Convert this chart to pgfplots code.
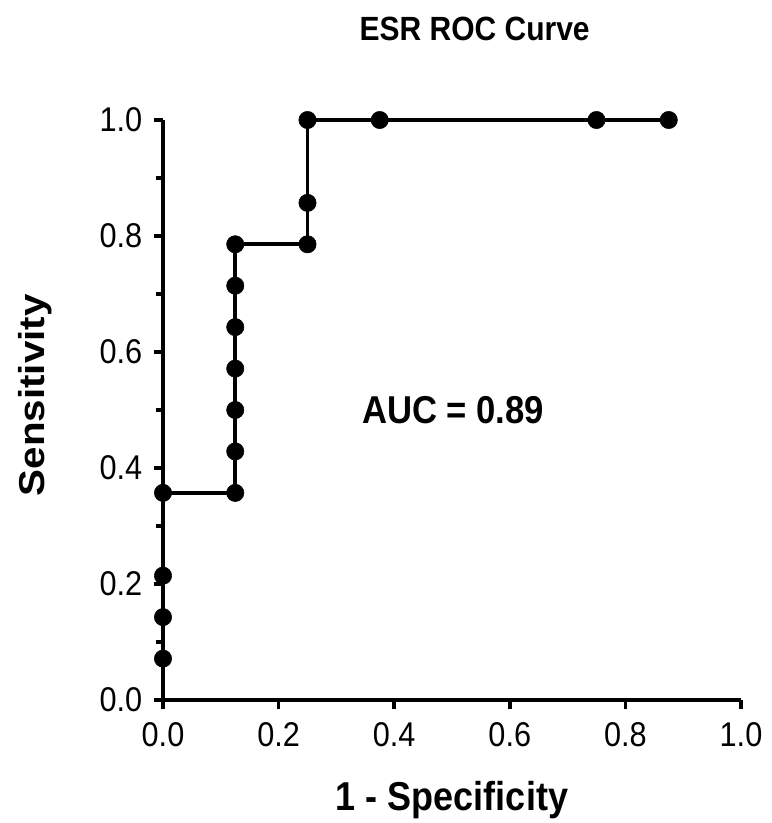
\documentclass[border=0pt]{standalone}
\usepackage{pgfplots}
\pgfplotsset{compat=1.18}
\usepackage{fontspec}
\setmainfont{Liberation Sans}

\begin{document}
\begin{tikzpicture}
\path[use as bounding box] (-122.25pt,-92.25pt) rectangle (456pt,525pt);
\begin{axis}[
  at={(0,0)}, anchor=origin,
  scale only axis,
  width=433.5pt, height=435pt,
  xmin=0, xmax=1, ymin=0, ymax=1,
  axis lines=left,
  axis line style={line width=2.9pt, -},
  xtick={0,0.2,...,1.0}, ytick={0,0.2,...,1.0},
  minor ytick={0.1,0.3,0.5,0.7,0.9},
  tick align=outside,
  major tick length=7pt, minor tick length=5pt,
  tick style={line width=2.6pt, black},
  tick label style={font=\fontsize{23}{25}\selectfont, yscale=1.12},
  yticklabel style={xshift=-5pt},
  xticklabel style={yshift=-5pt},
  /pgf/number format/assume math mode=true,
  /pgf/number format/fixed, /pgf/number format/fixed zerofill,
  /pgf/number format/precision=1,
  xlabel={\textbf{1 - Specificity}},
  ylabel={\textbf{Sensitivity}},
  label style={font=\fontsize{27}{30}\selectfont},
  xlabel style={at={(axis description cs:0.5,0)}, anchor=center, yshift=-75pt, yscale=1.12},
  ylabel style={at={(axis description cs:0,0.5)}, anchor=center, yshift=96pt, xshift=11pt, xscale=1.12},
  title={\textbf{ESR ROC Curve}},
  title style={font=\fontsize{22.5}{24}\selectfont, at={(axis description cs:0.5,1)}, anchor=center, yshift=62pt, xshift=17pt, yscale=1.12},
  clip=false,
]
\addplot[black, line width=2.9pt, no marks] coordinates {
  (0,0)(0,0.0714)(0,0.1429)(0,0.2143)(0,0.3571)(0.125,0.3571)(0.125,0.4286)
  (0.125,0.5)(0.125,0.5714)(0.125,0.6429)(0.125,0.7143)(0.125,0.7857)
  (0.25,0.7857)(0.25,0.8571)(0.25,1)(0.375,1)(0.75,1)(0.875,1)
};
\addplot[only marks, mark=*, mark size=6.5pt, black] coordinates {
  (0,0.0714)(0,0.1429)(0,0.2143)(0,0.3571)(0.125,0.3571)(0.125,0.4286)
  (0.125,0.5)(0.125,0.5714)(0.125,0.6429)(0.125,0.7143)(0.125,0.7857)
  (0.25,0.7857)(0.25,0.8571)(0.25,1)(0.375,1)(0.75,1)(0.875,1)
};
\node[font=\fontsize{26}{28}\selectfont\bfseries, yscale=1.12] at (axis cs:0.502,0.5) {AUC = 0.89};
\end{axis}
\end{tikzpicture}
\end{document}
